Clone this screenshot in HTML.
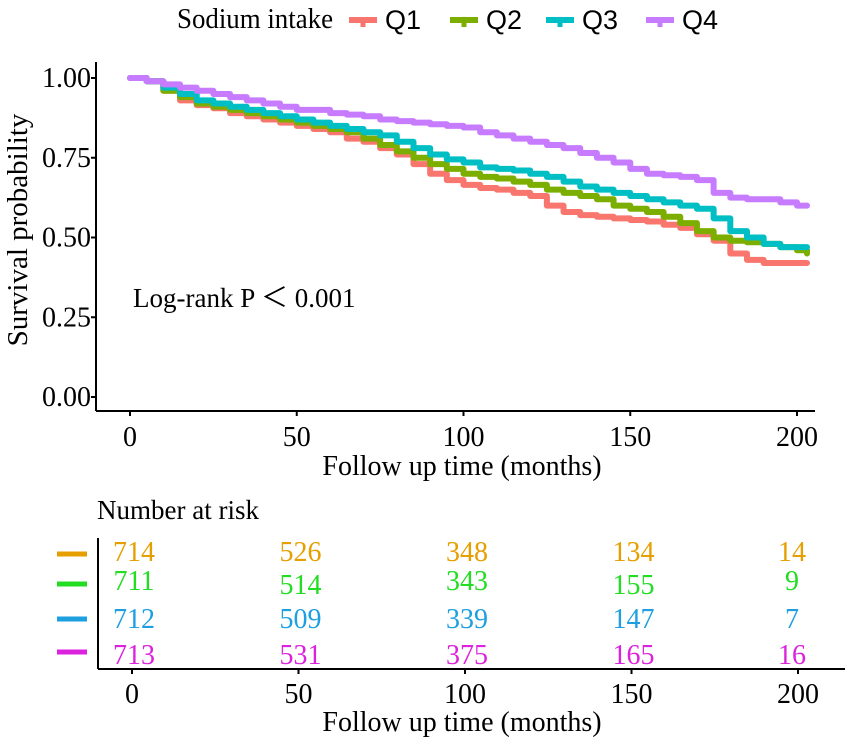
<!DOCTYPE html>
<html><head><meta charset="utf-8"><style>
html,body{margin:0;padding:0;background:#fff;}
svg{display:block;font-family:"Liberation Serif",serif;}
</style></head><body>
<svg id="c" width="851" height="742" viewBox="0 0 851 742">
<g id="legend">
<text x="177" y="28" font-size="28" fill="#000" textLength="156" lengthAdjust="spacingAndGlyphs">Sodium intake</text>
</g>
<g id="plot"></g>
<g id="table"></g>
</svg>
<script>
const times=[0,5,10,15,20,25,30,35,40,45,50,55,60,65,70,75,80,85,90,95,100,105,110,115,120,125,130,135,140,145,150,155,160,165,170,175,180,185,190,195,200,203];
const seriesNames=["Q1","Q2","Q3","Q4"];
const q1=[1,.99,.96,.93,.915,.905,.89,.88,.87,.86,.85,.84,.83,.81,.80,.78,.76,.73,.70,.68,.665,.655,.65,.64,.63,.60,.58,.57,.565,.56,.555,.55,.54,.53,.51,.49,.45,.43,.42,.42,.42,.42];
const q2=[1,.99,.96,.94,.92,.91,.90,.89,.88,.87,.86,.85,.84,.83,.81,.79,.77,.75,.73,.715,.70,.69,.685,.675,.665,.65,.64,.63,.62,.60,.59,.58,.565,.545,.52,.50,.49,.485,.48,.47,.46,.45];
const q3=[1,.99,.97,.95,.93,.92,.91,.90,.89,.88,.87,.86,.85,.84,.83,.82,.80,.78,.76,.745,.735,.72,.715,.71,.70,.69,.675,.66,.65,.64,.63,.62,.61,.60,.59,.56,.52,.50,.48,.47,.47,.47];
const q4=[1,.99,.98,.97,.96,.95,.94,.93,.92,.91,.90,.90,.89,.885,.88,.87,.865,.86,.855,.85,.845,.83,.82,.81,.80,.79,.78,.765,.75,.735,.715,.70,.695,.69,.68,.64,.625,.62,.62,.61,.60,.60];
const xTicks=[0,50,100,150,200];
const yTicks=[0,0.25,0.5,0.75,1.0];
const yTickLabels=["0.00","0.25","0.50","0.75","1.00"];
const riskQ1=[714,526,348,134,14];
const riskQ2=[711,514,343,155,9];
const riskQ3=[712,509,339,147,7];
const riskQ4=[713,531,375,165,16];

const NS="http://www.w3.org/2000/svg";
const lineColors=["#F8766D","#7CAE00","#00BFC4","#C77CFF"];
const riskColors=["#E69F00","#22DD22","#1E9FE0","#DD22DD"];
const X=t=>130+t*(797-130)/200;
const Y=s=>397-s*(397-78);
function mk(tag,attrs,parent,text){const e=document.createElementNS(NS,tag);for(const k in attrs)e.setAttribute(k,attrs[k]);if(text!==undefined)e.textContent=text;parent.appendChild(e);return e;}
const plot=document.getElementById('plot'),legend=document.getElementById('legend'),table=document.getElementById('table');

[349,450,546,646].forEach((x,i)=>{
  const g=mk('g',{},legend);
  
  
  mk('line',{x1:x,y1:20,x2:x+28,y2:20,stroke:lineColors[i],'stroke-width':6},g);
  mk('line',{x1:x+14,y1:20,x2:x+14,y2:27,stroke:lineColors[i],'stroke-width':5},g);
  mk('text',{x:x+36,y:29,'font-size':27,'font-family':'Liberation Sans, sans-serif',fill:'#000'},g,seriesNames[i]);
});

let a=mk('line',{x1:96,y1:62,x2:96,y2:411,stroke:'#000','stroke-width':2},plot);

a=mk('line',{x1:96,y1:411,x2:815,y2:411,stroke:'#000','stroke-width':2},plot);

yTicks.forEach((v,i)=>{
  mk('line',{x1:91,y1:Y(v),x2:96,y2:Y(v),stroke:'#000','stroke-width':2},plot);
  const t=mk('text',{x:91,y:Y(v)+9,'text-anchor':'end','font-size':28},plot,yTickLabels[i]);
  
});
xTicks.forEach(v=>{
  mk('line',{x1:X(v),y1:411,x2:X(v),y2:416,stroke:'#000','stroke-width':2},plot);
  const t=mk('text',{x:X(v),y:446,'text-anchor':'middle','font-size':28},plot,String(v));
  
});
let t=mk('text',{x:462,y:475,'text-anchor':'middle','font-size':28},plot,'Follow up time (months)');

t=mk('text',{x:0,y:0,transform:'translate(27,230) rotate(-90)','text-anchor':'middle','font-size':29},plot,'Survival probability');

t=mk('text',{x:133,y:307,'font-size':27},plot,'Log-rank  P ＜ 0.001');


[q1,q2,q3,q4].forEach((s,i)=>{
  let d='M'+X(times[0])+','+Y(s[0]);
  for(let k=1;k<times.length;k++){d+=' H'+X(times[k])+' V'+Y(s[k]);}
  const p=mk('path',{d:d,fill:'none',stroke:lineColors[i],'stroke-width':6,'stroke-linejoin':'round','stroke-linecap':'round'},plot);
  
  
});

t=mk('text',{x:97,y:519,'font-size':27},table,'Number at risk');

a=mk('line',{x1:98,y1:538,x2:98,y2:669,stroke:'#000','stroke-width':2},table);

a=mk('line',{x1:98,y1:669,x2:845,y2:669,stroke:'#000','stroke-width':2},table);

const TX=v=>132+v*(798-132)/200;
xTicks.forEach(v=>{
  mk('line',{x1:TX(v),y1:669,x2:TX(v),y2:674,stroke:'#000','stroke-width':2},table);
  const e=mk('text',{x:TX(v),y:703,'text-anchor':'middle','font-size':28},table,String(v));
  
});
t=mk('text',{x:462,y:731,'text-anchor':'middle','font-size':28},table,'Follow up time (months)');

const rowY=[561,590,628,664];
const dashY=[554,584,619,652];
[riskQ1,riskQ2,riskQ3,riskQ4].forEach((r,i)=>{
  const d=mk('line',{x1:57,y1:dashY[i],x2:87,y2:dashY[i],stroke:riskColors[i],'stroke-width':5},table);
  
  
  r.forEach((v,j)=>{
    const e=mk('text',{x:TX(xTicks[j])+2-(j==4?8:0),y:rowY[i]+(j%2==1&&i==1?4:0),'text-anchor':'middle','font-size':28,fill:riskColors[i]},table,String(v));
    
    
  });
});
</script>
</body></html>
